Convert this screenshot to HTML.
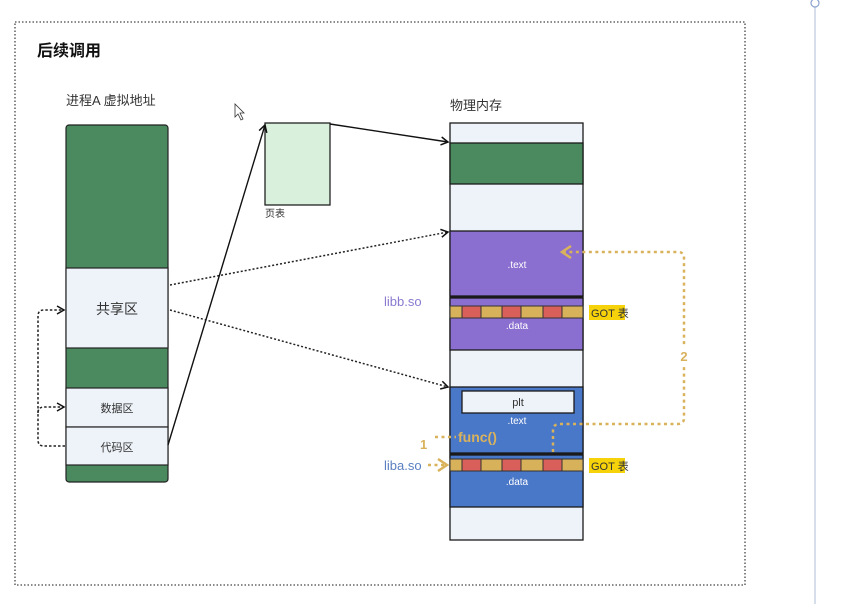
<!DOCTYPE html>
<html><head><meta charset="utf-8"><style>
html,body{margin:0;padding:0;background:#fff;}
svg{display:block;font-family:"Liberation Sans","Noto Sans CJK SC",sans-serif;}
</style></head><body>
<svg width="841" height="604" viewBox="0 0 841 604" xmlns="http://www.w3.org/2000/svg">
<defs>
<marker id="ah" markerWidth="10" markerHeight="10" refX="8" refY="5" orient="auto" markerUnits="userSpaceOnUse">
<path d="M1,1 L8,5 L1,9" fill="none" stroke="#111" stroke-width="1.5"/></marker>
<marker id="ag" markerWidth="14" markerHeight="14" refX="11" refY="7" orient="auto" markerUnits="userSpaceOnUse">
<path d="M2,1 L11,7 L2,13" fill="none" stroke="#d9b25c" stroke-width="2.5"/></marker>
</defs>
<rect x="15" y="22" width="730" height="563" fill="none" stroke="#444" stroke-width="1.3" stroke-dasharray="1.5,2"/>
<line x1="815" y1="7" x2="815" y2="604" stroke="#c9d4e6" stroke-width="1.5"/>
<circle cx="815" cy="3" r="4" fill="#fff" stroke="#8ea4cf" stroke-width="1.2"/>
<text x="37" y="56" font-size="16" font-weight="bold" fill="#111">后续调用</text>
<text x="66" y="105" font-size="13" fill="#333">进程A 虚拟地址</text>
<text x="450" y="110" font-size="13" fill="#333">物理内存</text>
<path d="M235,104 L235,117 L238,114 L241,120 L243,119 L240,113 L244,113 Z" fill="#fff" stroke="#333" stroke-width="0.8"/>
<rect x="66" y="125" width="102" height="357" rx="3" fill="#4a8a5e" stroke="#222" stroke-width="1.2"/>
<rect x="66" y="268" width="102" height="80" fill="#eef3f9" stroke="#222" stroke-width="1.2"/>
<rect x="66" y="388" width="102" height="39" fill="#eef3f9" stroke="#222" stroke-width="1.2"/>
<rect x="66" y="427" width="102" height="38" fill="#eef3f9" stroke="#222" stroke-width="1.2"/>
<text x="117" y="314" font-size="14" fill="#333" text-anchor="middle">共享区</text>
<text x="117" y="412" font-size="11" fill="#333" text-anchor="middle">数据区</text>
<text x="117" y="451" font-size="11" fill="#333" text-anchor="middle">代码区</text>
<path d="M65,446 L44,446 Q38,446 38,440 L38,413 Q38,407 44,407 L64,407" fill="none" stroke="#222" stroke-width="1.5" stroke-dasharray="2.5,2" marker-end="url(#ah)"/>
<path d="M38,413 L38,316 Q38,310 44,310 L64,310" fill="none" stroke="#222" stroke-width="1.5" stroke-dasharray="2.5,2" marker-end="url(#ah)"/>
<rect x="265" y="123" width="65" height="82" fill="#d9f0dd" stroke="#222" stroke-width="1.3"/>
<text x="265" y="217" font-size="10" fill="#333">页表</text>
<line x1="168" y1="445" x2="265" y2="125" stroke="#111" stroke-width="1.4" marker-end="url(#ah)"/>
<line x1="330" y1="124" x2="448" y2="142" stroke="#111" stroke-width="1.4" marker-end="url(#ah)"/>
<line x1="170" y1="285" x2="448" y2="232" stroke="#222" stroke-width="1.5" stroke-dasharray="2,2" marker-end="url(#ah)"/>
<line x1="170" y1="310" x2="448" y2="387" stroke="#222" stroke-width="1.5" stroke-dasharray="2,2" marker-end="url(#ah)"/>
<g stroke="#1a1a1a" stroke-width="1.3">
<rect x="450" y="123" width="133" height="417" fill="#eef3f9"/>
<rect x="450" y="143" width="133" height="41" fill="#4a8a5e"/>
<rect x="450" y="231" width="133" height="65" fill="#8a6fd0"/>
<rect x="450" y="298" width="133" height="52" fill="#8a6fd0"/>
<rect x="450" y="387" width="133" height="66" fill="#4a78c8"/>
<rect x="450" y="455" width="133" height="52" fill="#4a78c8"/>
<rect x="462" y="391" width="112" height="22" fill="#eef3f9"/>
</g>
<line x1="450" y1="297" x2="583" y2="297" stroke="#1a1a1a" stroke-width="2.5"/>
<line x1="450" y1="454" x2="583" y2="454" stroke="#1a1a1a" stroke-width="2.5"/>
<g stroke="#333" stroke-width="1">
<rect x="450" y="306" width="12" height="12" fill="#d8b25a"/><rect x="462" y="306" width="19" height="12" fill="#d9605a"/><rect x="481" y="306" width="21" height="12" fill="#d8b25a"/><rect x="502" y="306" width="19" height="12" fill="#d9605a"/><rect x="521" y="306" width="22" height="12" fill="#d8b25a"/><rect x="543" y="306" width="19" height="12" fill="#d9605a"/><rect x="562" y="306" width="21" height="12" fill="#d8b25a"/>
<rect x="450" y="459" width="12" height="12" fill="#d8b25a"/><rect x="462" y="459" width="19" height="12" fill="#d9605a"/><rect x="481" y="459" width="21" height="12" fill="#d8b25a"/><rect x="502" y="459" width="19" height="12" fill="#d9605a"/><rect x="521" y="459" width="22" height="12" fill="#d8b25a"/><rect x="543" y="459" width="19" height="12" fill="#d9605a"/><rect x="562" y="459" width="21" height="12" fill="#d8b25a"/>
</g>
<g font-size="10" fill="#fff" text-anchor="middle">
<text x="517" y="268">.text</text><text x="517" y="329">.data</text>
<text x="517" y="424">.text</text><text x="517" y="485">.data</text>
</g>
<text x="518" y="406" font-size="11" fill="#333" text-anchor="middle">plt</text>
<rect x="589" y="305" width="36" height="15" fill="#f5d20a"/><text x="591" y="317" font-size="11" fill="#333">GOT 表</text>
<rect x="589" y="458" width="36" height="15" fill="#f5d20a"/><text x="591" y="470" font-size="11" fill="#333">GOT 表</text>
<text x="384" y="306" font-size="13" fill="#8a7ad0">libb.so</text>
<text x="384" y="470" font-size="13" fill="#5a7fc0">liba.so</text>
<g fill="none" stroke="#d9b25c" stroke-width="2.5" stroke-dasharray="3,3.5">
<line x1="435" y1="437" x2="456" y2="437" />
<line x1="428" y1="465" x2="447" y2="465" marker-end="url(#ag)"/>
<path d="M553,452 L553,430 Q553,424 560,424 L678,424 Q684,424 684,418 L684,258 Q684,252 678,252 L562,252" marker-end="url(#ag)"/>
</g>
<rect x="678" y="346" width="12" height="18" fill="#fff"/>
<text x="684" y="361" font-size="13" font-weight="bold" fill="#d9b25c" text-anchor="middle">2</text>
<text x="420" y="449" font-size="13" font-weight="bold" fill="#d9b25c">1</text>
<text x="458" y="442" font-size="14" font-weight="bold" fill="#d9b25c">func()</text>
</svg>
</body></html>
